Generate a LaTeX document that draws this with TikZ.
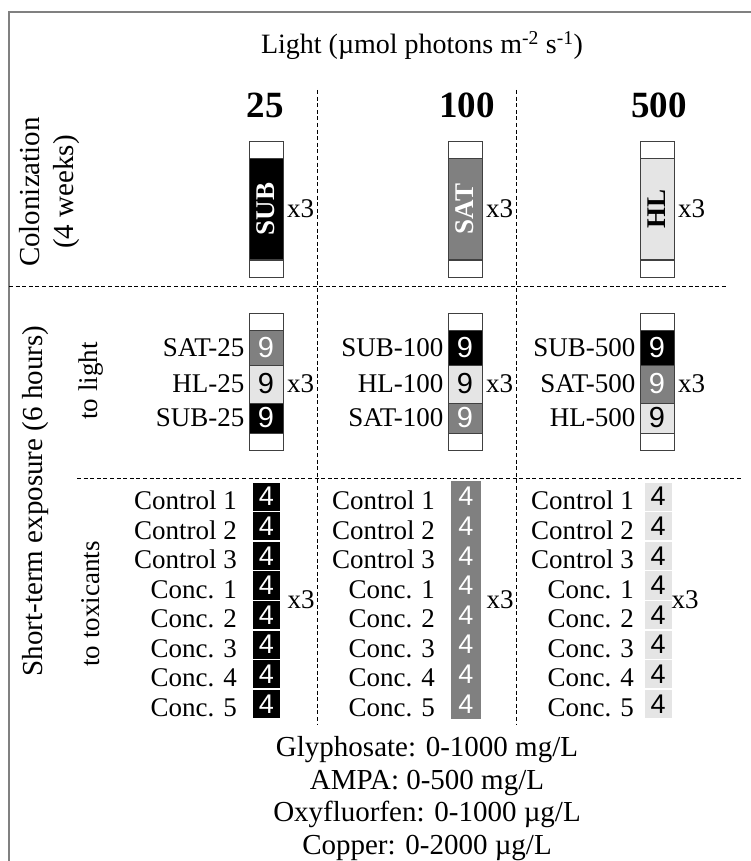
\documentclass[tikz,border=0pt]{standalone}
\usepackage{fontspec}
\setmainfont{Liberation Serif}
\newfontfamily\digitfont{Liberation Sans}
\definecolor{fillSUB}{gray}{0}
\definecolor{fillSAT}{gray}{0.5}
\definecolor{fillHL}{gray}{0.9}
\colorlet{inkSUB}{white}
\colorlet{inkSAT}{white}
\colorlet{inkHL}{black}
\definecolor{framegray}{gray}{0.5}
\begin{document}
\begin{tikzpicture}[x=1pt,y=-1pt,font=\fontsize{27}{30}\selectfont,inner sep=1pt]
  \tikzset{
    tubecap/.style={draw=black!75,fill=white,line width=1pt,
      minimum width=34pt,minimum height=17pt,inner sep=0pt},
    colony/.style={draw=black!75,line width=1pt,rotate=90,
      minimum width=100pt,minimum height=34pt,inner sep=0pt,
      font=\fontsize{27}{30}\selectfont\bfseries},
    segment/.style={draw=black!75,line width=1pt,minimum width=34pt,
      inner sep=0pt,font=\digitfont\fontsize{29}{29}\selectfont},
    well/.style={line width=1.4pt,minimum width=28.4pt,minimum height=29.6pt,
      inner sep=0pt,font=\digitfont\fontsize{27}{27}\selectfont},
    gridline/.style={dash pattern=on 4pt off 2.6pt,line width=0.9pt},
    sidelabel/.style={rotate=90,align=center,font=\fontsize{29}{34}\selectfont},
    lightlevel/.style={font=\fontsize{37}{37}\selectfont\bfseries}
  }
  \useasboundingbox (0,0) rectangle (751,861);
  \draw[framegray,line width=1.3pt] (9,861) -- (9,12) -- (751,12);

  \node (light) at (422,46)
    {\fontsize{28}{30}\selectfont Light (µmol photons m\textsuperscript{-2} s\textsuperscript{-1})};
  \node[lightlevel] (l25) at (265,105) {25};
  \node[lightlevel] (l100) at (467,105) {100};
  \node[lightlevel] (l500) at (659,105) {500};

  % dashed grid
  \draw[gridline] (9,286) -- (727,286);
  \draw[gridline] (77,478) -- (743,478);
  \draw[gridline] (317,90) -- (317,724);
  \draw[gridline] (516,90) -- (516,724);

  \node[sidelabel] (colon) at (50,192) {Colonization\\(4 weeks)};
  \node[sidelabel] (short) at (36,501) {Short-term exposure (6 hours)};
  \node[rotate=90] (tolight) at (91,381) {to light};
  \node[rotate=90] (totox) at (91,604) {to toxicants};

  % colonization
  \foreach \x/\lab in {266/SUB,465/SAT,657/HL}{
    \node[tubecap] (top\lab) at (\x,150.5) {};
    \node[colony,fill=fill\lab,text=ink\lab] (col\lab) at (\x,209) {\lab};
    \node[tubecap] (bot\lab) at (\x,268.5) {};
    \node[anchor=west] (rep\lab) at (\x+20,209) {x3};
  }

  % short-term exposure to light
  \foreach \x/\n/\a/\b/\c in {266/25/SAT/HL/SUB,465/100/SUB/HL/SAT,657/500/SUB/SAT/HL}{
    \node[tubecap] (ltop\n) at (\x,321.5) {};
    \node[segment,minimum height=35pt,fill=fill\a,text=ink\a] (s\a\n) at (\x,347.5) {9};
    \node[segment,minimum height=38pt,fill=fill\b,text=ink\b] (s\b\n) at (\x,384) {9};
    \node[segment,minimum height=30pt,fill=fill\c,text=ink\c] (s\c\n) at (\x,418) {9};
    \node[tubecap] (lbot\n) at (\x,441.5) {};
    \node[anchor=east,xshift=-3pt] (n\a\n) at (s\a\n.west) {\a-\n};
    \node[anchor=east,xshift=-3pt] (n\b\n) at (s\b\n.west) {\b-\n};
    \node[anchor=east,xshift=-3pt] (n\c\n) at (s\c\n.west) {\c-\n};
    \node[anchor=west] (lrep\n) at (\x+20,384) {x3};
  }

  % short-term exposure to toxicants
  \foreach \x/\c/\d/\lx/\rx/\k in {266.5/SUB/white/237/286.5/1,466/SAT/fillSAT/435/485.5/2,658/HL/white/634/670.5/3}{
    \foreach \t [count=\i from 0] in {Control 1,Control 2,Control 3,Conc. 1,Conc. 2,Conc. 3,Conc. 4,Conc. 5}{
      \node[well,draw=\d,fill=fill\c,text=ink\c] (w\k\i) at (\x,496.6+29.6*\i) {4};
      \node[anchor=east] (t\k\i) at (\lx+1,500.5+29.6*\i) {\t};
    }
    \node[anchor=west] (trep\k) at (\rx,600) {x3};
  }

  \node[align=center,font=\fontsize{29}{32.5}\selectfont] (doses) at (427,798.5)
    {Glyphosate: 0-1000 mg/L\\AMPA: 0-500 mg/L\\Oxyfluorfen: 0-1000 µg/L\\Copper: 0-2000 µg/L};
\end{tikzpicture}
\end{document}
